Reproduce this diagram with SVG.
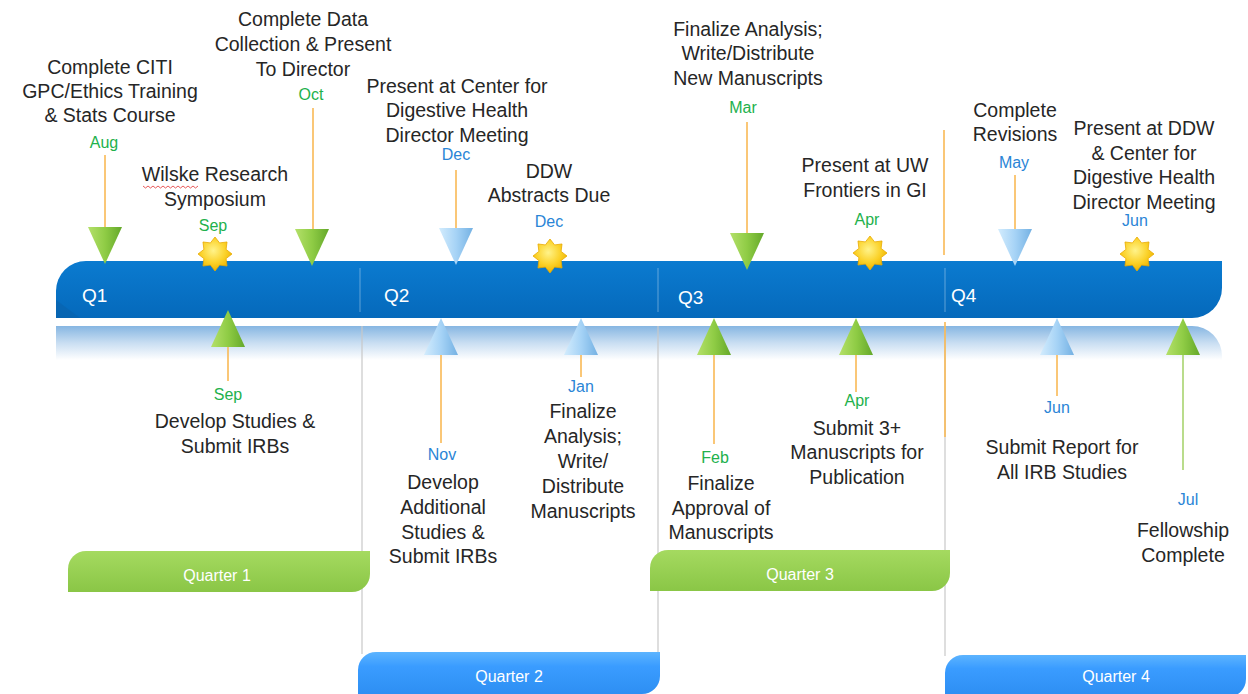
<svg xmlns="http://www.w3.org/2000/svg" xmlns:xlink="http://www.w3.org/1999/xlink" width="1248" height="694" viewBox="0 0 1248 694">
<style>
.t{font-family:"Liberation Sans",Arial,sans-serif;font-size:19.5px;fill:#262626;text-anchor:middle}
.mg{font-family:"Liberation Sans",Arial,sans-serif;font-size:16px;fill:#22b14c;text-anchor:middle}
.mb{font-family:"Liberation Sans",Arial,sans-serif;font-size:16px;fill:#2a85d6;text-anchor:middle}
.q{font-family:"Liberation Sans",Arial,sans-serif;font-size:19px;fill:#ffffff}
.qt{font-family:"Liberation Sans",Arial,sans-serif;font-size:16px;fill:#ffffff;text-anchor:middle}
.ol{stroke:#f9b955;stroke-width:1.6;fill:none}
.gl{stroke:#a8d46f;stroke-width:1.6;fill:none}
.div{stroke:#c8c8c8;stroke-width:1.2;fill:none}
.bdiv{stroke:#ffffff;stroke-opacity:0.3;stroke-width:1.2}
</style>
<defs>
<linearGradient id="barG" x1="0" y1="0" x2="0" y2="1">
<stop offset="0" stop-color="#0b7bd0"/><stop offset="1" stop-color="#0569bb"/>
</linearGradient>
<linearGradient id="bandG" x1="0" y1="0" x2="0" y2="1">
<stop offset="0" stop-color="#86b6e2"/><stop offset="0.5" stop-color="#c9def2"/><stop offset="1" stop-color="#ffffff"/>
</linearGradient>
<linearGradient id="greenT" x1="0" y1="0" x2="1" y2="0">
<stop offset="0" stop-color="#b4e06a"/><stop offset="0.5" stop-color="#8fcc45"/><stop offset="1" stop-color="#64a82a"/>
</linearGradient>
<linearGradient id="blueT" x1="0" y1="0" x2="1" y2="0">
<stop offset="0" stop-color="#d3ecfd"/><stop offset="0.5" stop-color="#a6d3f6"/><stop offset="1" stop-color="#74b1e3"/>
</linearGradient>
<radialGradient id="starG" cx="0.45" cy="0.4" r="0.6">
<stop offset="0" stop-color="#fff38a"/><stop offset="0.6" stop-color="#fbd22a"/><stop offset="1" stop-color="#eeb400"/>
</radialGradient>
<linearGradient id="tabGreen" x1="0" y1="0" x2="0" y2="1">
<stop offset="0" stop-color="#a5da60"/><stop offset="1" stop-color="#8ac646"/>
</linearGradient>
<linearGradient id="tabBlue" x1="0" y1="0" x2="0" y2="1">
<stop offset="0" stop-color="#5cb4ff"/><stop offset="0.3" stop-color="#3a9cff"/><stop offset="1" stop-color="#2b8cf0"/>
</linearGradient>
<path id="star" d="M0,-17 L4.59,-11.09 L12.02,-12.02 L11.09,-4.59 L17,0 L11.09,4.59 L12.02,12.02 L4.59,11.09 L0,17 L-4.59,11.09 L-12.02,12.02 L-11.09,4.59 L-17,0 L-11.09,-4.59 L-12.02,-12.02 L-4.59,-11.09 Z" fill="url(#starG)" stroke="#e8a900" stroke-width="0.8"/>
<path id="downG" d="M-17,0 L17,0 L0,37 Z" fill="url(#greenT)"/>
<path id="downB" d="M-17,0 L17,0 L0,37 Z" fill="url(#blueT)"/>
<path id="upG" d="M0,0 L17,37 L-17,37 Z" fill="url(#greenT)"/>
<path id="upB" d="M0,0 L17,37 L-17,37 Z" fill="url(#blueT)"/>
</defs>

<rect width="1248" height="694" fill="#ffffff"/>

<g id="timeline">
<path d="M56,326 H1192 A30,30 0 0 1 1222,356 V360 H56 Z" fill="url(#bandG)"/>
<line class="div" x1="362" y1="326" x2="362" y2="654"/>
<line class="div" x1="658" y1="326" x2="658" y2="654"/>
<line class="div" x1="945" y1="326" x2="945" y2="656"/>
<path d="M56,318 V291 A30,30 0 0 1 86,261 H1222 V288 A30,30 0 0 1 1192,318 Z" fill="url(#barG)"/>
<path d="M56,318 V300 L80,318 Z" fill="#0a5fa8" opacity="0.5"/>
<line class="bdiv" x1="360" y1="268" x2="360" y2="312"/>
<line class="bdiv" x1="658" y1="268" x2="658" y2="312"/>
<line class="bdiv" x1="945" y1="268" x2="945" y2="312"/>
<text class="q" x="82" y="302">Q1</text>
<text class="q" x="384" y="302">Q2</text>
<text class="q" x="678" y="304">Q3</text>
<text class="q" x="951" y="302">Q4</text>
</g>

<g id="connectors">
<line class="ol" x1="105" y1="155" x2="105" y2="229"/>
<line class="ol" x1="313" y1="108" x2="313" y2="231"/>
<line class="ol" x1="456" y1="170" x2="456" y2="230"/>
<line class="ol" x1="747" y1="122" x2="747" y2="235"/>
<line class="ol" x1="944" y1="130" x2="944" y2="255"/>
<line class="ol" x1="1015" y1="175" x2="1015" y2="230"/>
<line class="ol" x1="228" y1="346" x2="228" y2="381"/>
<line class="ol" x1="441" y1="354" x2="441" y2="443"/>
<line class="ol" x1="581" y1="354" x2="581" y2="377"/>
<line class="ol" x1="714" y1="354" x2="714" y2="444"/>
<line class="ol" x1="856" y1="354" x2="856" y2="392"/>
<line class="ol" x1="945" y1="322" x2="945" y2="437"/>
<line class="ol" x1="1057" y1="354" x2="1057" y2="396"/>
<line class="gl" x1="1183" y1="354" x2="1183" y2="470"/>
</g>

<g id="n-aug">
<text class="t" x="110" y="74">Complete CITI</text>
<text class="t" x="110" y="98">GPC/Ethics Training</text>
<text class="t" x="110" y="122">&amp; Stats Course</text>
<text class="mg" x="104" y="148">Aug</text>
<use xlink:href="#downG" href="#downG" x="105" y="227"/>
</g>
<g id="n-sep-symposium">
<text class="t" x="215" y="181">Wilske Research</text>
<text class="t" x="215" y="206">Symposium</text>
<path d="M143,186 l2.5,2 l2.5,-2 l2.5,2 l2.5,-2 l2.5,2 l2.5,-2 l2.5,2 l2.5,-2 l2.5,2 l2.5,-2 l2.5,2 l2.5,-2 l2.5,2 l2.5,-2 l2.5,2 l2.5,-2 l2.5,2 l2.5,-2 l2.5,2 l2.5,-2 l2.5,2 l2.5,-2" fill="none" stroke="#e03030" stroke-width="0.8"/>
<text class="mg" x="213" y="231">Sep</text>
<use xlink:href="#star" href="#star" x="215" y="254"/>
</g>
<g id="n-oct">
<text class="t" x="303" y="26">Complete Data</text>
<text class="t" x="303" y="51">Collection &amp; Present</text>
<text class="t" x="303" y="76">To Director</text>
<text class="mg" x="311" y="100">Oct</text>
<use xlink:href="#downG" href="#downG" x="312" y="229"/>
</g>
<g id="n-dec-center">
<text class="t" x="457" y="93">Present at Center for</text>
<text class="t" x="457" y="117">Digestive Health</text>
<text class="t" x="457" y="142">Director Meeting</text>
<text class="mb" x="456" y="160">Dec</text>
<use xlink:href="#downB" href="#downB" x="456" y="228"/>
</g>
<g id="n-dec-ddw">
<text class="t" x="549" y="178">DDW</text>
<text class="t" x="549" y="202">Abstracts Due</text>
<text class="mb" x="549" y="227">Dec</text>
<use xlink:href="#star" href="#star" x="550" y="256"/>
</g>
<g id="n-mar">
<text class="t" x="748" y="36">Finalize Analysis;</text>
<text class="t" x="748" y="60">Write/Distribute</text>
<text class="t" x="748" y="85">New Manuscripts</text>
<text class="mg" x="743" y="113">Mar</text>
<use xlink:href="#downG" href="#downG" x="747" y="233"/>
</g>
<g id="n-apr-uw">
<text class="t" x="865" y="172">Present at UW</text>
<text class="t" x="865" y="197">Frontiers in GI</text>
<text class="mg" x="867" y="225">Apr</text>
<use xlink:href="#star" href="#star" x="870" y="253"/>
</g>
<g id="n-may">
<text class="t" x="1015" y="117">Complete</text>
<text class="t" x="1015" y="141">Revisions</text>
<text class="mb" x="1014" y="168">May</text>
<use xlink:href="#downB" href="#downB" x="1015" y="229"/>
</g>
<g id="n-jun-ddw">
<text class="t" x="1144" y="135">Present at DDW</text>
<text class="t" x="1144" y="160">&amp; Center for</text>
<text class="t" x="1144" y="184">Digestive Health</text>
<text class="t" x="1144" y="209">Director Meeting</text>
<text class="mb" x="1135" y="226">Jun</text>
<use xlink:href="#star" href="#star" x="1137" y="254"/>
</g>

<g id="n-sep-irb">
<use xlink:href="#upG" href="#upG" x="228" y="310"/>
<text class="mg" x="228" y="400">Sep</text>
<text class="t" x="235" y="428">Develop Studies &amp;</text>
<text class="t" x="235" y="453">Submit IRBs</text>
</g>
<g id="n-nov">
<use xlink:href="#upB" href="#upB" x="441" y="318"/>
<text class="mb" x="442" y="460">Nov</text>
<text class="t" x="443" y="489">Develop</text>
<text class="t" x="443" y="514">Additional</text>
<text class="t" x="443" y="539">Studies &amp;</text>
<text class="t" x="443" y="563">Submit IRBs</text>
</g>
<g id="n-jan">
<use xlink:href="#upB" href="#upB" x="581" y="318"/>
<text class="mb" x="581" y="392">Jan</text>
<text class="t" x="583" y="418">Finalize</text>
<text class="t" x="583" y="443">Analysis;</text>
<text class="t" x="583" y="468">Write/</text>
<text class="t" x="583" y="493">Distribute</text>
<text class="t" x="583" y="518">Manuscripts</text>
</g>
<g id="n-feb">
<use xlink:href="#upG" href="#upG" x="714" y="318"/>
<text class="mg" x="715" y="463">Feb</text>
<text class="t" x="721" y="490">Finalize</text>
<text class="t" x="721" y="515">Approval of</text>
<text class="t" x="721" y="539">Manuscripts</text>
</g>
<g id="n-apr-submit">
<use xlink:href="#upG" href="#upG" x="856" y="318"/>
<text class="mg" x="857" y="406">Apr</text>
<text class="t" x="857" y="435">Submit 3+</text>
<text class="t" x="857" y="459">Manuscripts for</text>
<text class="t" x="857" y="484">Publication</text>
</g>
<g id="n-jun-report">
<use xlink:href="#upB" href="#upB" x="1057" y="318"/>
<text class="mb" x="1057" y="413">Jun</text>
<text class="t" x="1062" y="454">Submit Report for</text>
<text class="t" x="1062" y="479">All IRB Studies</text>
</g>
<g id="n-jul">
<use xlink:href="#upG" href="#upG" x="1183" y="318"/>
<text class="mb" x="1188" y="505">Jul</text>
<text class="t" x="1183" y="537">Fellowship</text>
<text class="t" x="1183" y="562">Complete</text>
</g>

<g id="quarter1">
<path d="M68,592 V569 A18,18 0 0 1 86,551 H370 V574 A18,18 0 0 1 352,592 Z" fill="url(#tabGreen)"/>
<text class="qt" x="217" y="581">Quarter 1</text>
</g>
<g id="quarter2">
<path d="M358,700 V670 A18,18 0 0 1 376,652 H660 V676 A18,18 0 0 1 642,694 V700 Z" fill="url(#tabBlue)"/>
<text class="qt" x="509" y="682">Quarter 2</text>
</g>
<g id="quarter3">
<path d="M650,591 V568 A18,18 0 0 1 668,550 H950 V573 A18,18 0 0 1 932,591 Z" fill="url(#tabGreen)"/>
<text class="qt" x="800" y="580">Quarter 3</text>
</g>
<g id="quarter4">
<path d="M945,700 V673 A18,18 0 0 1 963,655 H1246 V679 A18,18 0 0 1 1228,697 V700 Z" fill="url(#tabBlue)"/>
<text class="qt" x="1116" y="682">Quarter 4</text>
</g>
</svg>
